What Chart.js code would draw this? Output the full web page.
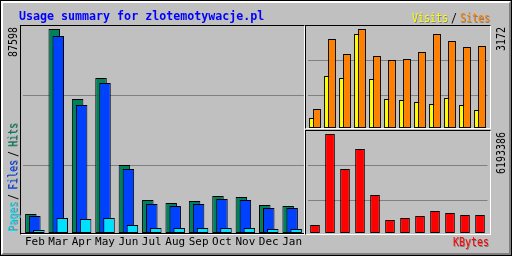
<!DOCTYPE html>
<html><head><meta charset="utf-8">
<script src="https://cdn.jsdelivr.net/npm/chart.js@4.4.1/dist/chart.umd.min.js"></script>
<style>
html,body{margin:0;padding:0;background:#c0c0c0;}
#wrap{position:relative;width:512px;height:256px;overflow:hidden;background:#c0c0c0;}
.abs{position:absolute;box-sizing:content-box;}
canvas{position:absolute;left:0;top:0;}
.t{position:absolute;font-family:'DejaVu Sans Mono',monospace;font-size:12px;line-height:12px;white-space:nowrap;transform-origin:0 0;}
.h{transform:scaleX(0.83);}
.v{transform:rotate(-90deg) scaleX(0.83);}
.sh{text-shadow:1px 1px 0 #808080;}
</style></head><body>
<div id="wrap">
 <div class="abs" style="left:0;top:0;width:510px;height:254px;border:1px solid #000;"></div>
 <div class="abs" style="left:1px;top:1px;width:506px;height:250px;border-top:2px solid #fff;border-left:2px solid #fff;border-right:2px solid #808080;border-bottom:2px solid #808080;"></div>
 <div class="abs" style="left:20px;top:25px;width:283px;height:208px;border-top:1px solid #000;border-left:1px solid #000;border-right:1px solid #fff;border-bottom:1px solid #fff;"></div>
 <div class="abs" style="left:21px;top:233px;width:283px;height:1px;background:#000;"></div>
 <div class="abs" style="left:305px;top:25px;width:184px;height:102px;border-top:1px solid #000;border-left:1px solid #000;border-right:1px solid #fff;border-bottom:1px solid #fff;"></div>
 <div class="abs" style="left:305px;top:130px;width:184px;height:103px;border-top:1px solid #000;border-left:1px solid #000;border-right:1px solid #fff;border-bottom:1px solid #fff;"></div>
 <canvas id="c1" width="512" height="256"></canvas>
 <canvas id="c2" width="512" height="256"></canvas>
 <canvas id="c3" width="512" height="256"></canvas>
 <div class="t" style="left:19px;top:9.5px;font-weight:bold;color:#0000ff;transform:scaleX(0.97);">Usage summary for zlotemotywacje.pl</div>
 <div class="t h sh" style="left:412px;top:12px;color:#ffff00;">Visits</div>
 <div class="t h" style="left:450.5px;top:12px;color:#000;">/</div>
 <div class="t h sh" style="left:460px;top:12px;color:#ff8000;">Sites</div>
 <div class="t h sh" style="left:453px;top:236.3px;color:#ff0000;">KBytes</div>
 <div id="lmax" class="t v" style="left:6.9px;top:56.7px;color:#000;"></div>
 <div id="vmax" class="t v" style="left:495.3px;top:51px;color:#000;"></div>
 <div id="kmax" class="t v" style="left:494.6px;top:173.5px;color:#000;"></div>
 <div class="t v sh" style="left:6.6px;top:232px;color:#00e0ff;">Pages</div>
 <div class="t v" style="left:6.6px;top:200px;color:#000;">/</div>
 <div class="t v sh" style="left:6.6px;top:190px;color:#0040ff;">Files</div>
 <div class="t v" style="left:6.6px;top:157px;color:#000;">/</div>
 <div class="t v sh" style="left:6.6px;top:147px;color:#00805c;">Hits</div>
</div>
<script>
const months = ['Feb','Mar','Apr','May','Jun','Jul','Aug','Sep','Oct','Nov','Dec','Jan'];
const hits   = [8159, 87598, 57540, 66557, 29199, 14170, 12882, 13741, 15888, 15458, 12023, 11594];
const files  = [7300, 84592, 54963, 64410, 27482, 12453, 11594, 12453, 14600, 14170, 10735, 10735];
const pages  = [1288, 6441, 6012, 6441, 3435, 2147, 2147, 2147, 2147, 2147, 1718, 1718];
const visits = [320, 1666, 1602, 3012, 1570, 929, 897, 833, 769, 961, 737, 577];
const sites  = [609, 2852, 2371, 3172, 2307, 2179, 2211, 2435, 3012, 2788, 2595, 2627];
const kbytes = [500473, 6193386, 4003780, 5254960, 2377250, 813270, 938390, 1063510, 1376300, 1251180, 1126060, 1126060];

const maxHits = Math.max(...hits);
const maxVS = Math.max(...visits, ...sites);
const maxK = Math.max(...kbytes);
document.getElementById('lmax').textContent = String(maxHits);
document.getElementById('vmax').textContent = String(maxVS);
document.getElementById('kmax').textContent = String(maxK);

const drawInOrder = {
  id: 'drawInOrder',
  beforeDatasetsDraw(chart) {
    chart.getSortedVisibleDatasetMetas().forEach(m => m.controller.draw());
    return false;
  }
};

function scaleFor(maxVal, top, bottom, basePx, maxPx) {
  const R = maxVal * (bottom - top) / (basePx - maxPx);
  const min = -(bottom - basePx) * R / (bottom - top);
  return {min: min, max: min + R, R: R};
}
function yAxis(s) {
  return {
    display: true, min: s.min, max: s.max,
    ticks: {display: false},
    border: {display: false},
    grid: {color: '#808080', lineWidth: 1, drawTicks: false},
    afterBuildTicks(sc) { sc.ticks = [{value: s.min + s.R / 3}, {value: s.min + 2 * s.R / 3}]; }
  };
}
function ds(label, data, color) {
  return {label: label, data: data, backgroundColor: color, borderColor: '#000', borderWidth: 1, borderSkipped: false};
}
const common = {
  responsive: false, animation: false, events: [],
  plugins: {legend: {display: false}, tooltip: {enabled: false}, title: {display: false}}
};

const s1 = scaleFor(maxHits, 25, 235, 233, 29);
new Chart(document.getElementById('c1'), {
  type: 'bar',
  data: {labels: months, datasets: [ds('Hits', hits, '#00805c'), ds('Files', files, '#0040ff'), ds('Pages', pages, '#00e0ff')]},
  options: Object.assign({}, common, {
    layout: {padding: {left: 23.15, right: 208.15, top: 25, bottom: 5.8}},
    datasets: {bar: {categoryPercentage: 0.513, barPercentage: 2.875}},
    scales: {
      x: {display: true, grid: {display: false, drawTicks: false}, border: {display: false},
          ticks: {color: '#000', font: {family: "'DejaVu Sans Mono', monospace", size: 11}, padding: 1, maxRotation: 0, autoSkip: false}},
      y: yAxis(s1)
    }
  }),
  plugins: [drawInOrder]
});

const s2 = scaleFor(maxVS, 25, 130, 128, 29);
new Chart(document.getElementById('c2'), {
  type: 'bar',
  data: {labels: months, datasets: [ds('Visits', visits, '#ffff00'), ds('Sites', sites, '#ff8000')]},
  options: Object.assign({}, common, {
    layout: {padding: {left: 307.5, right: 24.5, top: 25, bottom: 126}},
    datasets: {bar: {categoryPercentage: 0.5333, barPercentage: 1.95}},
    scales: {x: {display: false}, y: yAxis(s2)}
  }),
  plugins: [drawInOrder]
});

const s3 = scaleFor(maxK, 130, 235, 233, 134);
new Chart(document.getElementById('c3'), {
  type: 'bar',
  data: {labels: months, datasets: [ds('KBytes', kbytes, '#ff0000')]},
  options: Object.assign({}, common, {
    layout: {padding: {left: 307.5, right: 24.5, top: 130, bottom: 21}},
    datasets: {bar: {categoryPercentage: 0.8, barPercentage: 0.808}},
    scales: {x: {display: false}, y: yAxis(s3)}
  }),
  plugins: [drawInOrder]
});
</script>
</body></html>
